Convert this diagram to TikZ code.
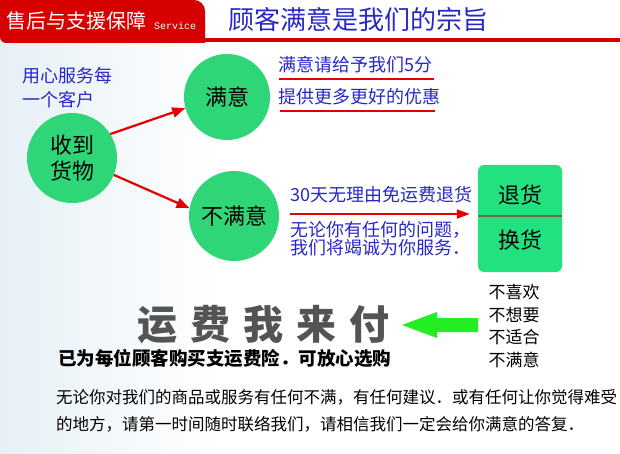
\documentclass[tikz,border=0pt]{standalone}
\usepackage{fontspec}
\setmainfont{Noto Sans CJK SC}
\newfontfamily\monofont{Liberation Mono}
\usepackage{xcolor}
\usetikzlibrary{arrows.meta,positioning}
\definecolor{hdrred}{RGB}{214,0,0}
\definecolor{arrred}{RGB}{226,0,0}
\definecolor{ttlblue}{RGB}{40,40,200}
\definecolor{ballgreen}{RGB}{46,214,120}
\definecolor{boxgreen}{RGB}{34,226,128}
\definecolor{arrgreen}{RGB}{34,238,34}
\definecolor{divbrown}{RGB}{120,104,60}
\definecolor{bigtxt}{RGB}{84,84,84}
\definecolor{bgblue}{RGB}{230,240,246}
\newcommand{\fs}[1]{\fontsize{#1}{#1}\selectfont}
\tikzset{
  ball/.style={circle,fill=ballgreen,minimum size=#1,inner sep=0pt,align=center,font=\fontsize{22}{26}\selectfont},
  redarr/.style={-{Triangle[length=13pt,width=10pt]},draw=arrred,line width=2.2pt},
  uline/.style={draw=arrred,line width=1.8pt},
  blu/.style={text=ttlblue,inner sep=0pt,anchor=west,font=\fs{18}},
  blk/.style={inner sep=0pt,anchor=west,font=\fs{16.5}},
}
\begin{document}
\begin{tikzpicture}[x=1pt,y=-1pt]
 \useasboundingbox (0,0) rectangle (620,454);
 \shade[left color=bgblue,right color=white] (0,43) rectangle (220,454);
 % header
 \fill[hdrred] (0,0) -- (194,0) to[out=0,in=90] (205,11) -- (205,43) -- (6,43) to[out=180,in=-90] (0,37) -- cycle;
 \fill[hdrred] (205,38) rectangle (620,42);
 \node[text=white,inner sep=0pt,anchor=west,font=\fs{20}] (hdr) at (6,21) {售后与支援保障};
 \node[text=white,inner sep=0pt,anchor=west,font=\monofont\fs{10}] (svc) at (154,26) {Service};
 \node[text=ttlblue,inner sep=0pt,anchor=west,font=\fs{26}] (ttl) at (228,20) {顾客满意是我们的宗旨};
 % circles
 \node[blu,align=left,font=\fontsize{18}{24}\selectfont] (care) at (22,88) {用心服务每\\一个客户};
 \node[ball=90pt] (recv) at (72,158) {收到\\货物};
 \node[ball=86pt] (sat) at (227,97) {满意};
 \node[ball=90pt] (unsat) at (234,216) {不满意};
 \draw[redarr] (recv.32) -- (sat.195);
 \draw[redarr] (recv.-22) -- (unsat.170);
 % satisfied
 \node[blu] (s1) at (278,65) {满意请给予我们5分};
 \draw[uline] (279,79) -- (434,79);
 \node[blu] (s2) at (278,97) {提供更多更好的优惠};
 \draw[uline] (280,111) -- (435,111);
 % not satisfied
 \node[fill=boxgreen,rounded corners=6pt,minimum width=84pt,minimum height=107pt,inner sep=0pt] (box) at (520,218.5) {};
 \draw[divbrown,line width=1.6pt] ([yshift=2.5pt]box.west) -- ([yshift=2.5pt]box.east);
 \node[font=\fs{22},inner sep=0pt] (ret) at (520,195) {退货};
 \node[font=\fs{22},inner sep=0pt] (exch) at (520,240) {换货};
 \node[blu] (u1) at (290,195) {30天无理由免运费退货};
 \coordinate (ua) at (290,214);
 \draw[-{Triangle[length=13pt,width=9pt]},draw=arrred,line width=1.8pt,shorten >=8pt] (ua) -- (ua -| box.west);
 \node[blu,align=left,font=\fontsize{18}{18}\selectfont] (u2) at (290,239) {无论你有任何的问题，\\我们将竭诚为你服务．};
 % freight
 \node[inner sep=0pt,align=left,font=\fontsize{17}{22.7}\selectfont] (why) at (514,326) {不喜欢\\不想要\\不适合\\不满意};
 \fill[arrgreen] (478,318) -- (437,318) -- (437,312) -- (402,325) -- (437,338) -- (437,332) -- (478,332) -- cycle;
 \node[text=bigtxt,inner sep=0pt,font=\bfseries\fs{40}] (pay) at (263,325)
   {运\hspace{13pt}费\hspace{13pt}我\hspace{13pt}来\hspace{13pt}付};
 \node[blk,font=\bfseries\fs{18.5}] (ins) at (58,358) {已为每位顾客购买支运费险．可放心选购};
 % note
 \node[blk,align=left,font=\fontsize{16.5}{27}\selectfont] (note) at (56,411)
   {无论你对我们的商品或服务有任何不满，有任何建议．或有任何让你觉得难受\\的地方，请第一时间随时联络我们，请相信我们一定会给你满意的答复．};
\end{tikzpicture}
\end{document}
